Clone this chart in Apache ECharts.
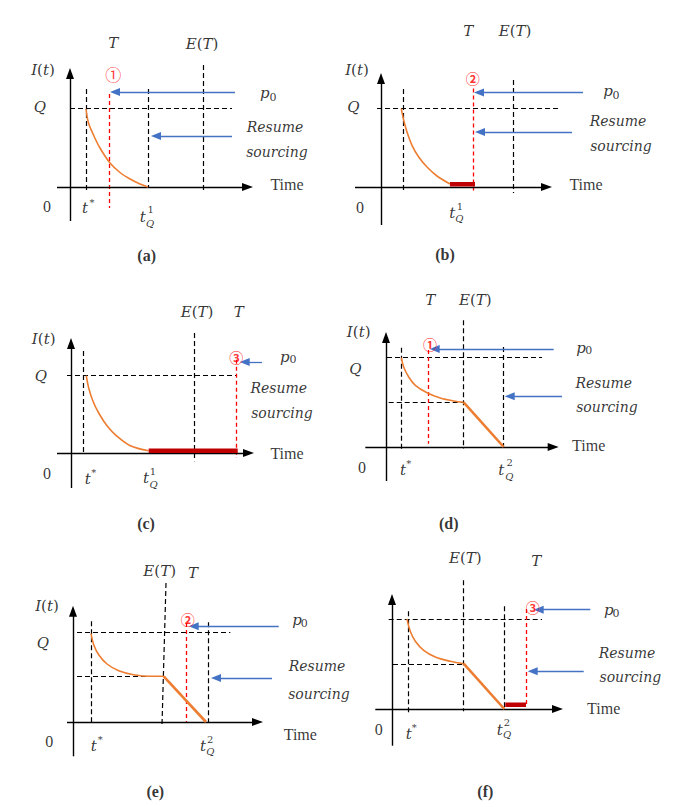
<!DOCTYPE html>
<html><head><meta charset="utf-8">
<script src="https://cdn.jsdelivr.net/npm/echarts@6/dist/echarts.min.js"></script>
<style>html,body{margin:0;padding:0;background:#fff}#c{width:685px;height:807px}</style>
</head><body><div id="c"></div>
<script>
// ---------- DATA (logical units, origin = crossing of the two axes) ----------
// segments are [x1, y1, x2, y2]; arrows end at their tip (x2, y2)
// text items are [x, y, text, styleKey]

// panel (a)
const curveA  = [[1.6,7.8],[1.85,6.4],[2.35,5.2],[3.0,3.9],[4.0,2.4],[5.0,1.45],[6.0,0.8],[7.0,0.3],[7.8,0]];
const rampA   = [];
const axesA   = [[0,-3.4,0,11.9],[-1.3,0,18.3,0]];
const guidesA = [[1.6,9.8,1.6,-0.6],[0,7.9,16.2,7.9],[7.8,9.8,7.8,-0.1],[13.3,12.2,13.3,-0.6]];
const redTA   = [[3.9,9.3,3.9,-2.1]];
const arrowsA = [[16.5,9.5,4.0,9.5],[16.2,5.1,8.1,5.1]];
const barsA   = [];
const textA   = [
  [4.33,14.4,'T','m'],[13.2,14.3,'E(T)','m'],[-2.7,11.7,'I(t)','m'],[-3.0,8.0,'Q','m'],
  [19.47,9.37,'p','m'],[20.3,9.0,'0','s0'],
  [20.5,6.0,'Resume','w'],[20.7,3.5,'sourcing','w'],
  [21.7,0.3,'Time','t'],[-2.3,-1.9,'0','t'],
  [1.5,-2.1,'t','m'],[2.2,-1.5,'*','sup'],
  [7.27,-3.0,'t','m'],[8.07,-2.2,'1','sup'],[8.0,-3.6,'Q','sub'],
  [4.33,11.3,'①','c'],
  [7.67,-6.8,'(a)','cap']
];

// panel (b)
const curveB  = [[2.03,7.83],[2.27,6.67],[2.6,5.5],[3.1,4.17],[3.77,3.0],[4.6,2.0],[5.6,1.1],[6.9,0.3]];
const rampB   = [];
const axesB   = [[0,-3.8,0,11.4],[-2.6,0,17.1,0]];
const guidesB = [[2.2,9.8,2.2,-0.6],[-0.4,7.85,17.7,7.85],[13.27,10.7,13.27,-0.6]];
const redTB   = [[9.27,9.85,9.27,-0.6]];
const arrowsB = [[20.2,9.45,9.3,9.45],[19.1,5.5,9.4,5.5]];
const barsB   = [[6.9,0.27,9.4,0.27]];
const textB   = [
  [8.73,15.6,'T','m'],[13.4,15.6,'E(T)','m'],[-2.4,11.7,'I(t)','m'],[-2.77,7.97,'Q','m'],
  [22.7,9.6,'p','m'],[23.5,9.2,'0','s0'],
  [23.7,6.6,'Resume','w'],[24.0,4.1,'sourcing','w'],
  [20.5,0.27,'Time','t'],[-2.1,-2.0,'0','t'],
  [7.13,-2.6,'t','m'],[7.9,-1.9,'1','sup'],[7.83,-3.15,'Q','sub'],
  [9.17,10.95,'②','c2'],
  [6.4,-6.7,'(b)','cap']
];

// panel (c)
const curveC  = [[1.53,7.73],[1.77,6.5],[2.2,5.17],[2.77,4.0],[3.6,2.73],[4.6,1.67],[5.93,0.73],[7.77,0.22]];
const rampC   = [];
const axesC   = [[0,-3.5,0,11.5],[-1.4,0,18.3,0]];
const guidesC = [[1.27,10.2,1.27,0],[-0.4,7.73,16.6,7.73],[12.37,12.0,12.37,-0.83]];
const redTC   = [[16.53,9.33,16.53,-0.5]];
const arrowsC = [[19.1,9.1,16.87,9.1]];
const barsC   = [[7.77,0.22,16.67,0.22]];
const textC   = [
  [12.6,14.07,'E(T)','m'],[16.77,14.07,'T','m'],[-2.73,11.4,'I(t)','m'],[-3.0,7.67,'Q','m'],
  [21.37,9.6,'p','m'],[22.2,9.33,'0','s0'],
  [20.77,6.5,'Resume','w'],[21.1,4.0,'sourcing','w'],
  [21.6,0,'Time','t'],[-2.4,-2.07,'0','t'],
  [1.67,-2.6,'t','m'],[2.27,-1.93,'*','sup'],
  [7.5,-2.5,'t','m'],[8.2,-1.83,'1','sup'],[8.27,-3.1,'Q','sub'],
  [16.53,9.6,'③','c2'],
  [7.5,-7.0,'(c)','cap']
];

// panel (d)
const curveD  = [[1.53,8.93],[1.77,8.0],[2.27,7.0],[2.93,6.17],[4.1,5.43],[5.43,4.9],[6.77,4.6],[7.77,4.47]];
const rampD   = [[7.77,4.47],[11.77,0]];
const axesD   = [[0,-3.4,0,11.5],[-2.07,0,17.27,0]];
const guidesD = [[1.5,9.93,1.5,-0.33],[0.1,8.93,15.6,8.93],[0.27,4.47,7.77,4.47],[7.7,12.67,7.7,-0.17],[11.77,10.0,11.77,0]];
const redTD   = [[4.2,9.7,4.2,0.33]];
const arrowsD = [[16.77,9.8,4.37,9.8],[17.6,5.07,11.87,5.07]];
const barsD   = [];
const textD   = [
  [4.43,14.67,'T','m'],[8.93,14.67,'E(T)','m'],[-2.73,11.5,'I(t)','m'],[-3.07,7.77,'Q','m'],
  [19.5,9.93,'p','m'],[20.27,9.67,'0','s0'],
  [21.77,6.4,'Resume','w'],[22.1,4.0,'sourcing','w'],
  [20.27,0.17,'Time','t'],[-2.4,-2.0,'0','t'],
  [1.7,-2.27,'t','m'],[2.27,-1.6,'*','sup'],
  [11.53,-2.33,'t','m'],[12.37,-1.57,'2','sup'],[12.33,-2.9,'Q','sub'],
  [4.4,10.3,'①','c2'],
  [6.27,-7.6,'(d)','cap']
];

// panel (e)
const curveE  = [[1.8,8.83],[2.07,7.73],[2.57,6.73],[3.4,5.8],[4.57,5.13],[6.07,4.73],[7.73,4.57],[9.07,4.57]];
const rampE   = [[9.07,4.57],[13.3,0]];
const axesE   = [[0,-3.43,0,11.63],[-0.6,0,19.0,0]];
const guidesE = [[1.8,10.07,1.8,0],[0.4,8.97,15.73,8.97],[0.4,4.57,9.07,4.57],[9.3,13.9,8.9,-0.27],[13.57,9.97,13.57,0]];
const redTE   = [[11.3,9.9,11.3,0]];
const arrowsE = [[20.57,9.57,11.57,9.57],[19.9,4.4,13.8,4.4]];
const barsE   = [];
const textE   = [
  [8.67,15.07,'E(T)','m'],[12.0,14.9,'T','m'],[-2.6,11.57,'I(t)','m'],[-3.0,7.9,'Q','m'],
  [22.4,10.17,'p','m'],[23.13,9.83,'0','s0'],
  [24.4,5.57,'Resume','w'],[24.6,2.83,'sourcing','w'],
  [22.73,-1.27,'Time','t'],[-2.37,-1.93,'0','t'],
  [2.07,-2.43,'t','m'],[2.73,-1.77,'*','sup'],
  [13.0,-2.43,'t','m'],[13.73,-1.7,'2','sup'],[13.73,-2.93,'Q','sub'],
  [11.47,10.3,'②','c2'],
  [8.23,-6.93,'(e)','cap']
];

// panel (f)
const curveF  = [[1.5,9.0],[1.83,7.77],[2.33,6.77],[3.17,5.87],[4.33,5.2],[5.83,4.77],[7.17,4.53]];
const rampF   = [[7.17,4.53],[11.23,0]];
const axesF   = [[0,-3.67,0,11.5],[-1.67,0,17.1,0]];
const guidesF = [[1.6,9.77,1.6,-0.57],[-0.33,9.0,15.0,9.0],[0.1,4.43,7.17,4.43],[7.1,12.87,7.1,-0.23],[11.27,10.27,11.27,0]];
const redTF   = [[13.4,10.0,13.4,0.43]];
const arrowsF = [[19.83,9.93,14.17,9.93],[19.17,3.77,13.57,3.77]];
const barsF   = [[11.33,0.43,13.4,0.43]];
const textF   = [
  [7.33,15.1,'E(T)','m'],[14.43,14.77,'T','m'],
  [21.67,9.87,'p','m'],[22.4,9.6,'0','s0'],
  [23.5,5.6,'Resume','w'],[23.83,3.2,'sourcing','w'],
  [21.17,0.1,'Time','t'],[-1.33,-2.0,'0','t'],
  [1.67,-2.47,'t','m'],[2.23,-1.8,'*','sup'],
  [10.77,-2.07,'t','m'],[11.5,-1.33,'2','sup'],[11.5,-2.57,'Q','sub'],
  [14.07,10.2,'③','c2'],
  [9.33,-8.23,'(f)','cap']
];

// ---------- LAYOUT & STYLE ----------
const UNIT = 10; // px per unit
const origins = [[70,187],[381,187],[71,453],[386,447],[73,722],[392,709]];
const X_MIN = -5, X_MAX = 32, Y_MIN = -9, Y_MAX = 17;

const panels = [
  {curve:curveA, ramp:rampA, axes:axesA, guides:guidesA, redT:redTA, arrows:arrowsA, bars:barsA, text:textA},
  {curve:curveB, ramp:rampB, axes:axesB, guides:guidesB, redT:redTB, arrows:arrowsB, bars:barsB, text:textB},
  {curve:curveC, ramp:rampC, axes:axesC, guides:guidesC, redT:redTC, arrows:arrowsC, bars:barsC, text:textC},
  {curve:curveD, ramp:rampD, axes:axesD, guides:guidesD, redT:redTD, arrows:arrowsD, bars:barsD, text:textD},
  {curve:curveE, ramp:rampE, axes:axesE, guides:guidesE, redT:redTE, arrows:arrowsE, bars:barsE, text:textE},
  {curve:curveF, ramp:rampF, axes:axesF, guides:guidesF, redT:redTF, arrows:arrowsF, bars:barsF, text:textF}
];

const SERIF = "'DejaVu Serif', serif";
const TIMES = "'Liberation Serif', serif";
const CJK = "'Noto Sans CJK SC', sans-serif";
const base = {color:'#000', textBorderWidth:0, textShadowBlur:0};
const RICH = {
  m:   Object.assign({fontFamily:SERIF, fontStyle:'italic', fontSize:15}, base),
  mu:  Object.assign({fontFamily:SERIF, fontSize:15}, base),
  w:   Object.assign({fontFamily:SERIF, fontStyle:'italic', fontSize:14}, base),
  s0:  Object.assign({fontFamily:SERIF, fontSize:11}, base),
  sub: Object.assign({fontFamily:SERIF, fontStyle:'italic', fontSize:10}, base),
  sup: Object.assign({fontFamily:SERIF, fontSize:10}, base),
  t:   Object.assign({fontFamily:TIMES, fontSize:16}, base),
  cap: Object.assign({fontFamily:TIMES, fontWeight:'bold', fontSize:16}, base),
  c:   Object.assign({}, base, {fontFamily:CJK, fontSize:16, color:'#ff0000'}),
  c2:  Object.assign({}, base, {fontFamily:CJK, fontSize:14, fontWeight:'bold', color:'#ff0000'})
};

function fmt(text, key) {
  if (key === 'm') {
    return text.split('').map(ch => (ch === '(' || ch === ')') ? '{mu|' + ch + '}' : '{m|' + ch + '}').join('');
  }
  return '{' + key + '|' + text + '}';
}
function plainSeg(s, style) {
  return [{coord:[s[0], s[1]], symbol:'none', lineStyle:style}, {coord:[s[2], s[3]], symbol:'none'}];
}
function arrowSeg(s, style, size) {
  const [x1, y1, x2, y2] = s;
  const L = Math.hypot(x2 - x1, y2 - y1);
  const back = size[1] / 2 / UNIT;
  const ex = x2 - (x2 - x1) / L * back, ey = y2 - (y2 - y1) / L * back;
  return [{coord:[x1, y1], symbol:'none', lineStyle:style}, {coord:[ex, ey], symbol:'triangle', symbolSize:size}];
}

const grid = [], xAxis = [], yAxis = [], series = [];
panels.forEach((p, i) => {
  const [ox, oy] = origins[i];
  grid.push({left: ox + X_MIN * UNIT, top: oy - Y_MAX * UNIT, width: (X_MAX - X_MIN) * UNIT, height: (Y_MAX - Y_MIN) * UNIT,
             containLabel:false, outerBoundsMode:'none', show:false});
  xAxis.push({type:'value', gridIndex:i, min:X_MIN, max:X_MAX, show:false});
  yAxis.push({type:'value', gridIndex:i, min:Y_MIN, max:Y_MAX, show:false});

  const ml = [];
  p.guides.forEach(s => ml.push(plainSeg(s, {color:'#000', width:1.2, type:[5,3]})));
  p.redT.forEach(s => ml.push(plainSeg(s, {color:'#ff0000', width:1.3, type:[4,3]})));
  p.axes.forEach(s => ml.push(arrowSeg(s, {color:'#000', width:1.4, type:'solid'}, [8,11])));
  p.arrows.forEach(s => ml.push(arrowSeg(s, {color:'#4472c4', width:1.3, type:'solid'}, [8,10])));

  series.push({
    type:'line', xAxisIndex:i, yAxisIndex:i, data:p.curve, smooth:0.35,
    symbol:'none', silent:true, z:4, lineStyle:{color:'#ed7d31', width:1.6},
    markLine:{silent:true, symbol:['none','none'], label:{show:false}, emphasis:{disabled:true},
              animation:false, z:2, data:ml}
  });
  if (p.ramp.length) {
    series.push({type:'line', xAxisIndex:i, yAxisIndex:i, data:p.ramp, symbol:'none', silent:true, z:4,
                 lineStyle:{color:'#ed7d31', width:2.6}});
  }
  p.bars.forEach(b => {
    series.push({type:'line', xAxisIndex:i, yAxisIndex:i, data:[[b[0], b[1]], [b[2], b[3]]], symbol:'none', silent:true, z:5,
                 lineStyle:{color:'#c00000', width:4.5, cap:'butt'}});
  });
  series.push({
    type:'scatter', xAxisIndex:i, yAxisIndex:i, symbolSize:1, silent:true, z:10,
    itemStyle:{color:'rgba(0,0,0,0)'},
    data: p.text.map(t => ({value:[t[0], t[1]],
      label:{show:true, position:'inside', formatter: fmt(t[2], t[3]), rich:RICH, color:'#000', textBorderWidth:0}}))
  });
});

const chart = echarts.init(document.getElementById('c'), null, {renderer:'svg'});
chart.setOption({backgroundColor:'#fff', animation:false, tooltip:{show:false}, grid, xAxis, yAxis, series});
</script>
</body></html>
